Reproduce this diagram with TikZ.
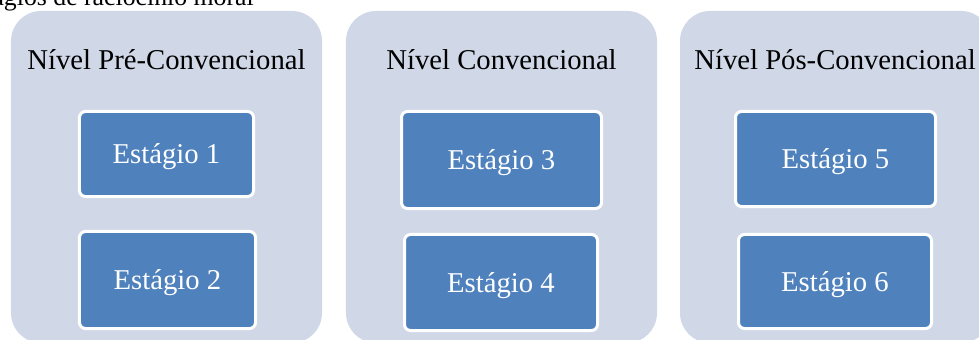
\documentclass[tikz,border=0pt]{standalone}
\usepackage{fontspec}
\setmainfont{Liberation Serif}
\definecolor{panelfill}{HTML}{D0D8E8}
\definecolor{stagefill}{HTML}{4F81BD}

\begin{document}
\begin{tikzpicture}[x=0.03cm, y=-0.03cm,
  level/.style={fill=panelfill, rounded corners=0.9cm, rectangle, inner sep=0pt,
    minimum width=9.33cm, minimum height=9.96cm},
  title/.style={anchor=base, inner sep=0pt, font=\fontsize{24.5pt}{28pt}\selectfont},
  stage/.style={draw=white, line width=0.09cm, fill=stagefill, rectangle, rounded corners=0.18cm,
    inner sep=0pt, text=white, text depth=0pt, font=\fontsize{24.5pt}{28pt}\selectfont}]
\clip (0,0) rectangle (979,340);

\node[anchor=base east, inner sep=0pt, font=\fontsize{22pt}{26pt}\selectfont] (cap) at (254,6) {Estágios de raciocínio moral};

\node[level] (p1) at (166.5,177) {};
\node[level] (p2) at (501.5,177) {};
\node[level] (p3) at (835.5,177) {};

\node[title] (t1) at (166.5,70) {Nível Pré-Convencional};
\node[title] (t2) at (501.5,70) {Nível Convencional};
\node[title] (t3) at (835,70) {Nível Pós-Convencional};

\node[stage, minimum width=5.22cm, minimum height=2.55cm] (e1) at (166.5,154) {Estágio 1};
\node[stage, minimum width=5.28cm, minimum height=2.91cm] (e2) at (167.5,280) {Estágio 2};
\node[stage, minimum width=6cm, minimum height=2.91cm] (e3) at (501.5,160) {Estágio 3};
\node[stage, minimum width=5.79cm, minimum height=2.88cm] (e4) at (501,282.5) {Estágio 4};
\node[stage, minimum width=6cm, minimum height=2.85cm] (e5) at (835.5,159) {Estágio 5};
\node[stage, minimum width=5.79cm, minimum height=2.82cm] (e6) at (835,281.5) {Estágio 6};

\end{tikzpicture}
\end{document}
